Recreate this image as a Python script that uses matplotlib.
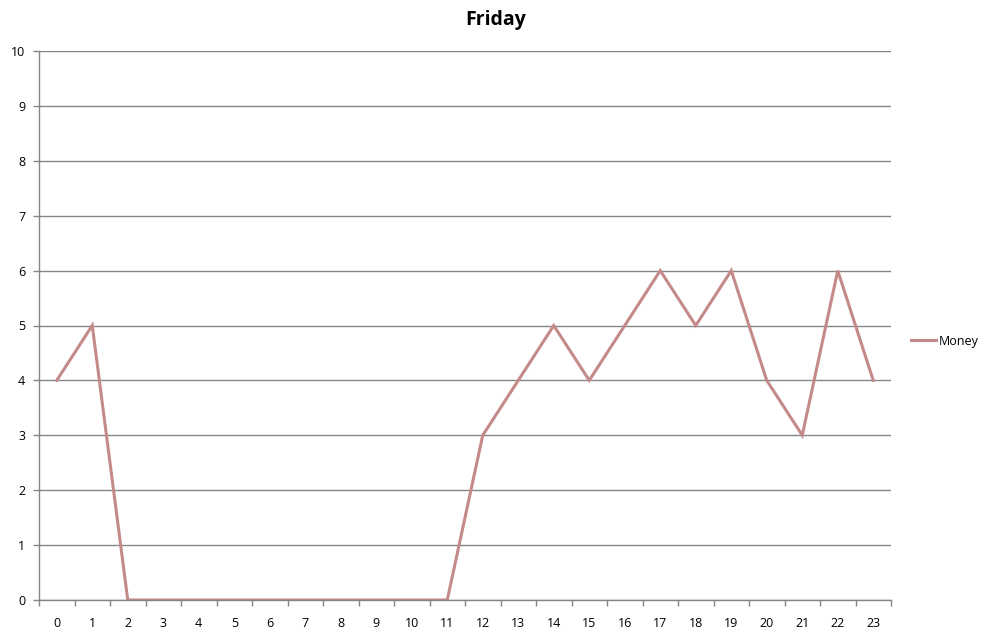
import numpy as np
import matplotlib.pyplot as plt

plt.rcParams['font.family'] = ['Open Sans', 'DejaVu Sans']

hours = list(range(24))
money = [4, 5, 0, 0, 0, 0, 0, 0, 0, 0, 0, 0, 3, 4, 5, 4, 5, 6, 5, 6, 4, 3, 6, 4]
yticks = list(range(0, 11))

W, H = 990, 638
fig = plt.figure(figsize=(W / 100, H / 100), dpi=100)
ax = fig.add_axes([39 / W, 1 - 600 / H, (891 - 39) / W, (600 - 51) / H])

line, = ax.plot(hours, money, color='#C48A89', lw=2.2, solid_joinstyle='miter', label='Money')

ax.set_xlim(-0.5, 23.5)
ax.set_ylim(0, 10)
ax.set_yticks(yticks)
ax.set_yticklabels([str(v) for v in yticks], fontsize=9)
ax.set_xticks(hours)
ax.set_xticklabels([str(h) for h in hours], fontsize=9)
ax.tick_params(axis='x', length=0, pad=12)
ax.set_xticks(np.arange(-0.5, 24, 1), minor=True)
ax.tick_params(axis='x', which='minor', length=4, color='#868686', width=1)
ax.tick_params(axis='y', length=4, color='#868686', width=1, pad=6)

ax.grid(axis='y', color='#868686', lw=1)
ax.set_axisbelow(True)
for s in ['top', 'right']:
    ax.spines[s].set_visible(False)
for s in ['left', 'bottom']:
    ax.spines[s].set_color('#868686')
    ax.spines[s].set_linewidth(1)

fig.text(496 / W, 1 - 20 / H, 'Friday', ha='center', va='center', fontsize=14, fontweight='bold')

fig.legend(handles=[line], loc='center left', bbox_to_anchor=(900 / W, 1 - 341 / H),
           frameon=False, fontsize=9, handlelength=2.0, handletextpad=0.2)

fig.savefig('out.png', dpi=100)
